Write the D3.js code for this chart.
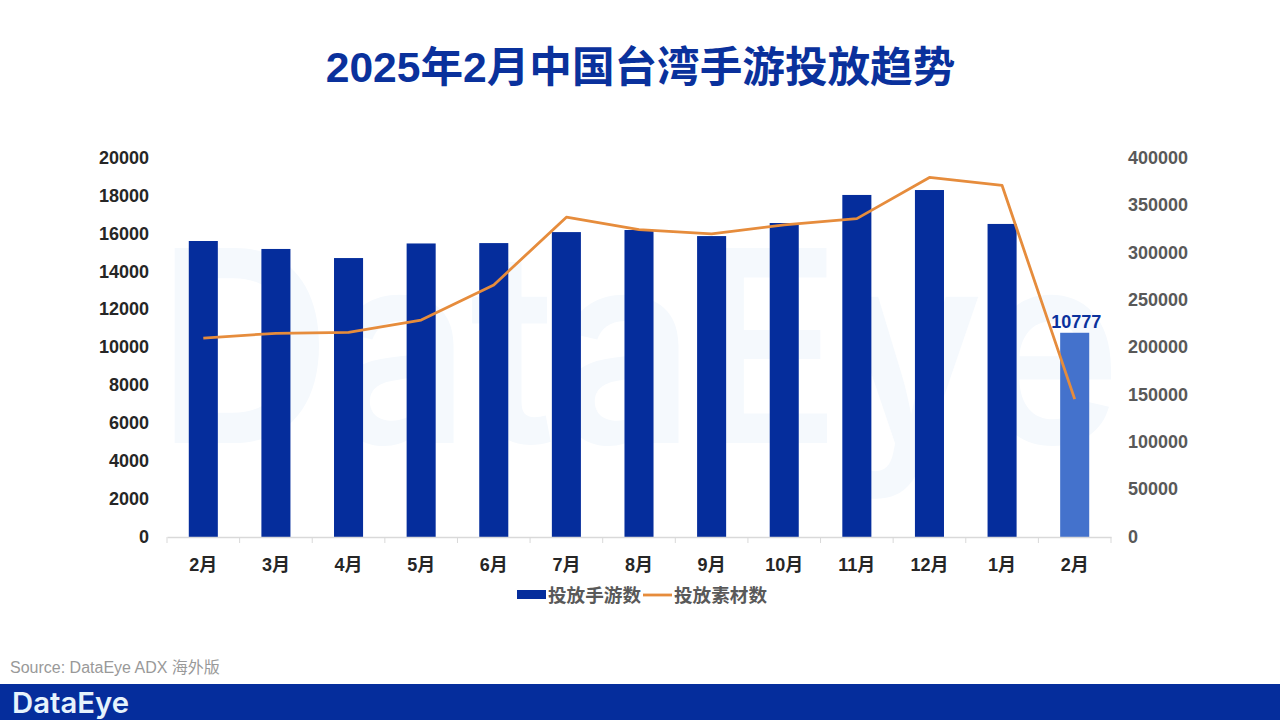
<!DOCTYPE html>
<html><head><meta charset="utf-8">
<script src="https://cdn.jsdelivr.net/npm/d3@7/dist/d3.min.js"></script>
<style>
html,body{margin:0;padding:0;background:#fff;width:1280px;height:720px;overflow:hidden}
svg{display:block}
text{font-family:"Liberation Sans","Noto Sans CJK SC",sans-serif}
</style></head><body><svg id="c" width="1280" height="720"></svg>
<script>
const months = ["2月","3月","4月","5月","6月","7月","8月","9月","10月","11月","12月","1月","2月"];
const gameCounts = [15620,15200,14720,15490,15510,16090,16200,15880,16570,18050,18310,16520,10777];
const assetCounts = [210000,215000,216000,229000,266000,337500,324500,320000,329500,336000,379500,371000,145500];
const leftTicks = [0,2000,4000,6000,8000,10000,12000,14000,16000,18000,20000];
const rightTicks = [0,50000,100000,150000,200000,250000,300000,350000,400000];
const legendNames = ["投放手游数","投放素材数"];

const svg = d3.select("#c");
const blue="#052D9C", light="#4472CC", orange="#E68C3C", grey="#595959";
const x = d3.scaleBand().domain(months.map((_,i)=>i)).range([167,1111]).paddingInner(0.6).paddingOuter(0.3);
const yL = d3.scaleLinear().domain([0,20000]).range([537,158]);
const yR = d3.scaleLinear().domain([0,400000]).range([537,158]);
const cx = i => x(i)+x.bandwidth()/2;
const step = x.step();

// watermark
svg.append("text").attr("x",157).attr("y",443).attr("textLength",964).attr("lengthAdjust","spacingAndGlyphs")
  .attr("font-size",268).attr("font-weight",600).attr("fill","#F5F9FD").style("font-family","Inter, sans-serif").text("DataEye");

// title
svg.append("text").attr("x",640.5).attr("y",82).attr("text-anchor","middle").attr("font-size",42.6)
  .attr("font-weight",700).attr("fill","#0A319C").text("2025年2月中国台湾手游投放趋势");

// bars
svg.append("g").selectAll("rect").data(gameCounts).join("rect")
  .attr("x",(d,i)=>x(i)).attr("width",x.bandwidth())
  .attr("y",d=>yL(d)).attr("height",d=>yL(0)-yL(d))
  .attr("fill",(d,i)=>i===gameCounts.length-1?light:blue);

// axes
const axL = svg.append("g").attr("transform","translate(157,-1)")
  .call(d3.axisLeft(yL).tickValues(leftTicks).tickSize(0).tickPadding(8).tickFormat(d3.format("d")));
const axR = svg.append("g").attr("transform","translate(1120,-1)")
  .call(d3.axisRight(yR).tickValues(rightTicks).tickSize(0).tickPadding(8).tickFormat(d3.format("d")));
const axX = svg.append("g").attr("transform","translate(0,537)")
  .call(d3.axisBottom(x).tickSize(0).tickPadding(21).tickFormat(i=>months[i]));
[axL,axR].forEach(a=>{a.select(".domain").remove();a.selectAll("text").attr("font-family",null).attr("font-size",18).attr("font-weight",700).attr("fill",grey).attr("dy","0.35em");});
axL.selectAll("text").attr("fill","#262626");
axX.selectAll("text").attr("font-family",null).attr("font-size",18).attr("font-weight",700).attr("fill","#262626");
axX.select(".domain").attr("stroke","#D9D9D9").attr("stroke-width",1.5);
svg.append("g").selectAll("line").data(d3.range(months.length+1)).join("line")
  .attr("x1",i=>167+i*step).attr("x2",i=>167+i*step).attr("y1",537).attr("y2",543)
  .attr("stroke","#D9D9D9").attr("stroke-width",1);

// line
svg.append("path").datum(assetCounts).attr("fill","none").attr("stroke",orange).attr("stroke-width",2.8)
  .attr("stroke-linejoin","round").attr("stroke-linecap","butt")
  .attr("d",d3.line().x((d,i)=>cx(i)).y(d=>yR(d)));

// data label
const last = gameCounts.length-1;
svg.append("text").attr("x",cx(last)+1.5).attr("y",yL(gameCounts[last])-5).attr("text-anchor","middle")
  .attr("font-size",18).attr("font-weight",700).attr("fill","#0A319C").text(gameCounts[last]);

// legend
const lg = svg.append("g");
lg.append("rect").attr("x",517).attr("y",590).attr("width",29).attr("height",9).attr("fill",blue);
lg.append("text").attr("x",548).attr("y",602).attr("font-size",18.6).attr("font-weight",700).attr("fill",grey).text(legendNames[0]);
lg.append("line").attr("x1",643).attr("x2",672).attr("y1",595).attr("y2",595).attr("stroke",orange).attr("stroke-width",2.8);
lg.append("text").attr("x",674).attr("y",602).attr("font-size",18.6).attr("font-weight",700).attr("fill",grey).text(legendNames[1]);

// source + footer
svg.append("text").attr("x",10).attr("y",673).attr("font-size",16).attr("fill","#999999").text("Source: DataEye ADX 海外版");
svg.append("rect").attr("x",0).attr("y",684).attr("width",1280).attr("height",36).attr("fill",blue);
svg.append("text").attr("x",12).attr("y",713).attr("font-size",29).attr("textLength",117).attr("lengthAdjust","spacingAndGlyphs")
  .style("font-family","Inter, sans-serif").attr("font-weight",600).attr("fill","#E6F3FC").text("DataEye");
</script></body></html>
